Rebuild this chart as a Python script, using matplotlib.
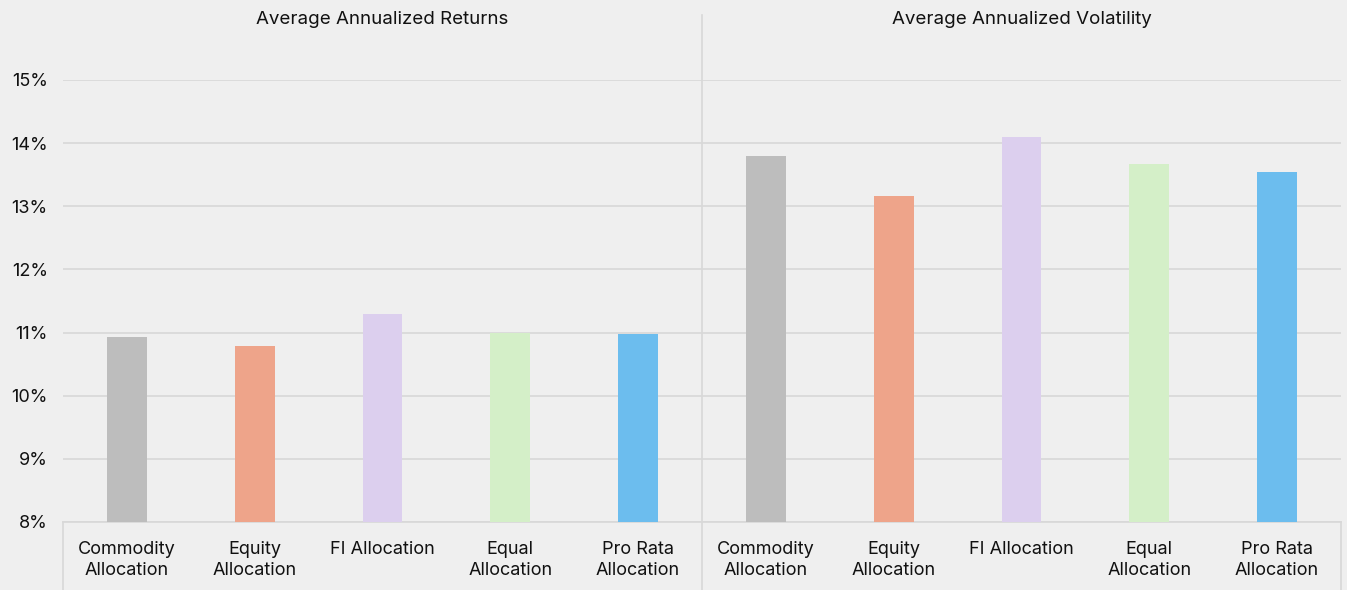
import matplotlib.pyplot as plt
from matplotlib.ticker import FuncFormatter

plt.rcParams["font.family"] = ["Inter", "DejaVu Sans"]

panels = ["Average Annualized Returns", "Average Annualized Volatility"]
strategies = [
    "Commodity\nAllocation",
    "Equity\nAllocation",
    "FI Allocation",
    "Equal\nAllocation",
    "Pro Rata\nAllocation",
]
returns = [10.93, 10.79, 11.30, 11.00, 10.98]
volatility = [13.80, 13.17, 14.10, 13.67, 13.55]
colors = ["#bdbdbd", "#eea48a", "#dccfee", "#d4efc8", "#6cbdee"]

BG = "#efefef"
GRID = "#d8d8d8"
INK = "#111111"

fig = plt.figure(figsize=(13.47, 5.90), dpi=100, facecolor=BG)
ax = fig.add_axes([63 / 1347, 1 - 522 / 590, (1341 - 63) / 1347, (522 - 80) / 590])
ax.set_facecolor(BG)

values = returns + volatility
labels = strategies + strategies
x = list(range(len(values)))
ax.bar(x, values, width=0.31, color=colors + colors, bottom=0, zorder=3)

ax.set_xlim(-0.5, len(values) - 0.5)
ax.set_ylim(8, 15)
ax.set_yticks(range(8, 16))
ax.yaxis.set_major_formatter(FuncFormatter(lambda v, _: f"{v:.0f}%"))
ax.grid(axis="y", color=GRID, linewidth=1.2, zorder=0)
ax.tick_params(axis="y", length=0, pad=11, labelsize=13, labelcolor=INK)

ax.set_xticks(x)
ax.set_xticklabels(labels, fontsize=13, color=INK, linespacing=1.3)
ax.tick_params(axis="x", length=0, pad=14)

for side in ["top", "right", "left"]:
    ax.spines[side].set_visible(False)
ax.spines["bottom"].set_color(GRID)
ax.spines["bottom"].set_linewidth(1.2)

# divider between the two panels and the frame around the category labels
xt = ax.get_xaxis_transform()
ax.plot([4.5, 4.5], [-0.154, 1.147], transform=xt, color=GRID, lw=1.2, clip_on=False, zorder=1)
ax.plot([-0.5, -0.5], [-0.154, 0], transform=xt, color=GRID, lw=1.2, clip_on=False)
ax.plot([9.5, 9.5], [-0.154, 0], transform=xt, color=GRID, lw=1.2, clip_on=False)

for i, title in enumerate(panels):
    ax.text(2 + 5 * i, 1.137, title, transform=xt, ha="center", va="center",
            fontsize=13.5, color=INK)

fig.savefig("out.png", dpi=100, facecolor=BG)
